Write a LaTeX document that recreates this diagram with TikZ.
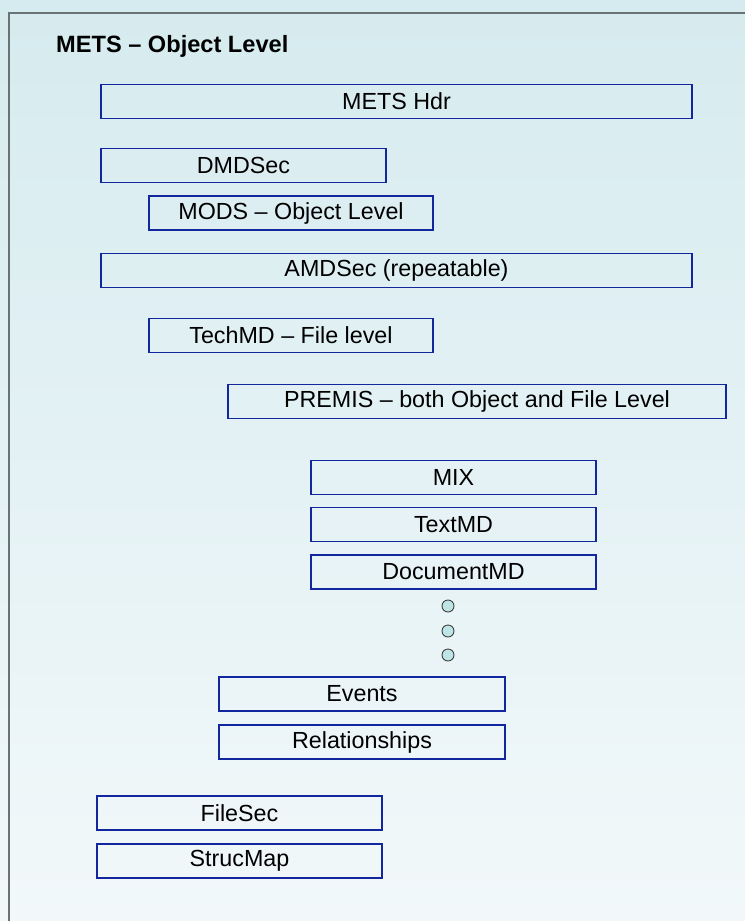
\documentclass[tikz,border=0pt]{standalone}
\usepackage{fontspec}
\setmainfont{Liberation Sans}
\definecolor{bgtop}{RGB}{214,235,239}
\definecolor{bgbot}{RGB}{242,248,250}
\definecolor{boxblue}{RGB}{18,38,158}
\definecolor{framegray}{RGB}{105,115,115}
\definecolor{dotfill}{RGB}{190,228,230}
\tikzset{
  boxnode/.style={draw=boxblue, line width=1.8bp, inner sep=0pt, minimum height=34bp,
    font=\fontsize{23.3bp}{26bp}\selectfont, text=black},
  dotnode/.style={circle, draw=black!75, fill=dotfill, line width=0.9bp, inner sep=0pt, minimum size=12bp},
}
\begin{document}
\begin{tikzpicture}[x=1bp,y=-1bp]
\useasboundingbox (0,0) rectangle (745,921);
\begin{scope}
\clip (0,0) rectangle (745,921);
\shade[top color=bgtop, bottom color=bgbot] (0,0) rectangle (745,921);
\draw[framegray, line width=1.6bp] (9,940) -- (9,13) -- (760,13);
\end{scope}
\node[anchor=base west, inner sep=0pt, font=\fontsize{23.6bp}{26bp}\selectfont\bfseries] (title) at (56,52) {METS – Object Level};
\node[boxnode, minimum width=591bp] (hdr) at (396.5,101.5) {METS Hdr};
\node[boxnode, minimum width=285bp] (dmd) at (243.5,165.5) {DMDSec};
\node[boxnode, minimum width=284bp] (mods) at (291,213) {MODS – Object Level};
\node[boxnode, minimum width=591bp] (amd) at (396.5,270.5) {AMDSec (repeatable)};
\node[boxnode, minimum width=284bp] (tech) at (291,335.5) {TechMD – File level};
\node[boxnode, minimum width=498bp] (premis) at (477,401.5) {PREMIS – both Object and File Level};
\node[boxnode, minimum width=285bp] (mix) at (453.5,477.5) {MIX};
\node[boxnode, minimum width=285bp] (textmd) at (453.5,524.5) {TextMD};
\node[boxnode, minimum width=285bp] (docmd) at (453.5,572) {DocumentMD};
\node[dotnode] (d1) at (448,606) {};
\node[dotnode] (d2) at (448,631) {};
\node[dotnode] (d3) at (448,655) {};
\node[boxnode, minimum width=286bp] (events) at (362,694) {Events};
\node[boxnode, minimum width=286bp] (rel) at (362,742) {Relationships};
\node[boxnode, minimum width=285bp] (filesec) at (239.5,813) {FileSec};
\node[boxnode, minimum width=285bp] (strucmap) at (239.5,861) {StrucMap};
\end{tikzpicture}
\end{document}
